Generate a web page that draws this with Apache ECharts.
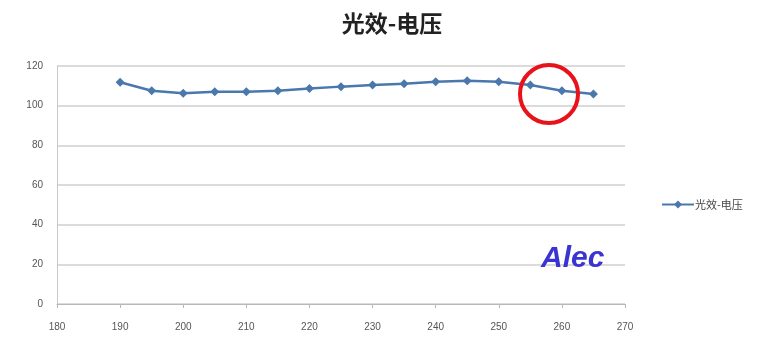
<!DOCTYPE html>
<html>
<head>
<meta charset="utf-8">
<script src="https://cdn.jsdelivr.net/npm/echarts@6/dist/echarts.min.js"></script>
<style>
  html, body { margin: 0; padding: 0; background: #fff; }
  #chart { width: 763px; height: 342px; }
</style>
</head>
<body>
<div id="chart"></div>
<script>
// Voltage (V) and luminous efficacy readings
const seriesName = '光效-电压';
const voltages = [190, 195, 200, 205, 210, 215, 220, 225, 230, 235, 240, 245, 250, 255, 260, 265];
const efficacy = [111.8, 107.5, 106.2, 107, 107, 107.5, 108.7, 109.6, 110.4, 111.1, 112.1, 112.6, 112.1, 110.4, 107.5, 105.9];

const chart = echarts.init(document.getElementById('chart'));
const lineColor = '#4a78ad';
const labelStyle = { color: '#555', fontSize: 10, fontFamily: 'Liberation Sans, Arial, sans-serif' };

chart.setOption({
  animation: false,
  backgroundColor: '#fff',
  title: {
    text: seriesName,
    left: 387, top: 7, textAlign: 'center',
    textStyle: { fontSize: 23, fontWeight: 'bold', color: '#222', fontFamily: 'Noto Sans CJK SC' }
  },
  legend: {
    orient: 'vertical',
    left: 656, top: 194,
    itemWidth: 32, itemHeight: 10, itemGap: 4,
    data: [seriesName],
    textStyle: { color: '#444', fontSize: 11, fontFamily: 'Noto Sans CJK SC', padding: [0, 0, 0, -4] }
  },
  grid: { left: 57, right: 138, top: 66, bottom: 38 },
  xAxis: {
    type: 'value', min: 180, max: 270, interval: 10,
    axisLine: { lineStyle: { color: '#b8b8b8', width: 1 } },
    axisTick: { show: true, length: 4, lineStyle: { color: '#b8b8b8' } },
    axisLabel: Object.assign({ margin: 18 }, labelStyle),
    splitLine: { show: false }
  },
  yAxis: {
    type: 'value', min: 0, max: 120, interval: 20,
    axisLine: { show: true, lineStyle: { color: '#c8c8c8', width: 1 } },
    axisTick: { show: false },
    axisLabel: Object.assign({ margin: 14 }, labelStyle),
    splitLine: { lineStyle: { color: '#cfcfcf', width: 1.5 } }
  },
  series: [{
    name: seriesName,
    type: 'line',
    data: voltages.map((v, i) => [v, efficacy[i]]),
    symbol: 'diamond', symbolSize: 9,
    itemStyle: { color: lineColor },
    lineStyle: { color: lineColor, width: 2.5 }
  }],
  graphic: [
    {
      type: 'ellipse',
      shape: { cx: 549, cy: 94, rx: 29, ry: 29 },
      style: { fill: null, stroke: '#e8121a', lineWidth: 4 },
      z: 100
    },
    {
      type: 'text',
      left: 541, top: 244,
      style: {
        text: 'Alec', fill: '#3a35d0',
        font: 'italic bold 30px "Liberation Sans", Arial, sans-serif'
      },
      z: 100
    }
  ]
});
</script>
</body>
</html>
